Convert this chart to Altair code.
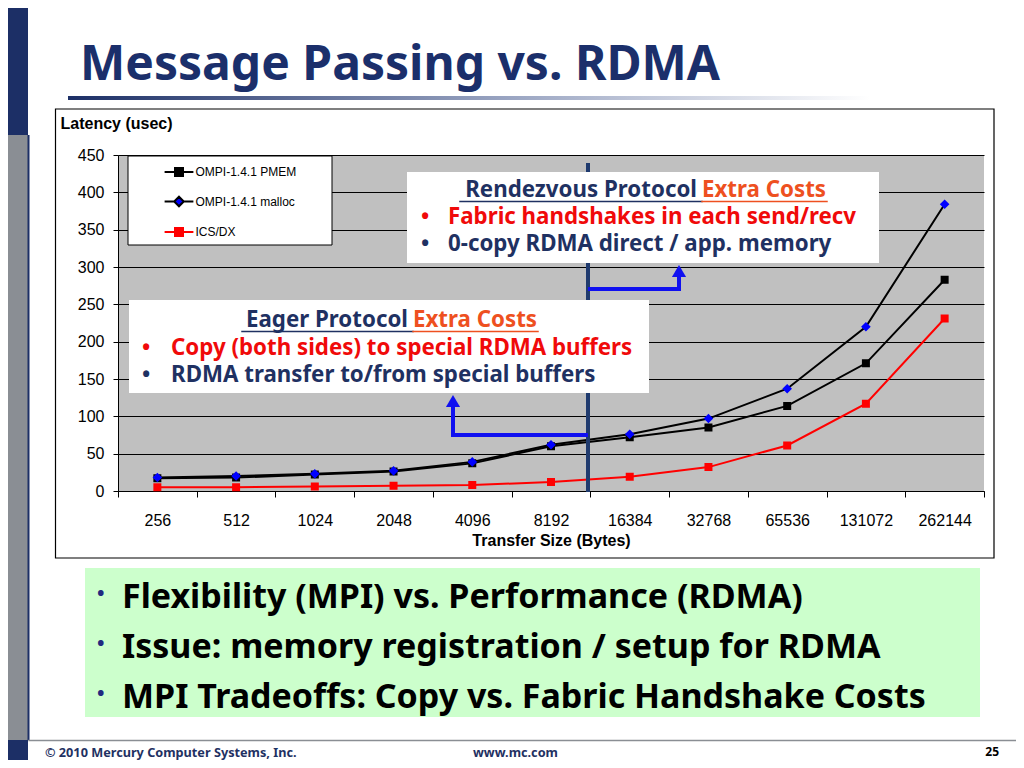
import altair as alt
import pandas as pd

# transfer sizes (bytes) and measured latency (usec) per stack
sizes = ["256", "512", "1024", "2048", "4096", "8192",
         "16384", "32768", "65536", "131072", "262144"]
series = ["OMPI-1.4.1 PMEM", "OMPI-1.4.1 malloc", "ICS/DX"]
pmem = [17, 18, 22, 26, 37, 60, 72, 85, 114, 171, 283]
malloc = [18, 20, 23, 27, 39, 62, 76, 97, 137, 220, 384]
icsdx = [5, 5, 6, 7, 8, 12, 19, 32, 61, 117, 231]
y_ticks = [0, 50, 100, 150, 200, 250, 300, 350, 400, 450]

line_colors = ["#000000", "#000000", "#ff0000"]
marker_colors = ["#000000", "#0000ff", "#ff0000"]
line_widths = [2, 2, 1]
# marker paths carry a stroke-only dash so the legend shows line + marker
SQ = "M-1.8,0H1.8M-0.5,-0.5H0.5V0.5H-0.5Z"
DM = "M-1.8,0H-0.6M0.6,0H1.8M0,-0.6L0.6,0L0,0.6L-0.6,0Z"
marker_shapes = [SQ, DM, SQ]

df = pd.DataFrame({
    "size": sizes * 3,
    "series": [s for s in series for _ in sizes],
    "latency": pmem + malloc + icsdx,
})
one = pd.DataFrame({"k": [0]})

NAVY = "#1c2f66"
TXT_NAVY = "#1f3162"
RED = "#f00a0a"
ORANGE = "#ee5020"
BLUE = "#1010f0"
SLIDE = "Noto Sans"
CHART = "Liberation Sans"

# plot area origin on the page
OX, OY = 118, 155
W, H = 866, 336


def px(x):
    return x - OX


def py(y):
    return y - OY


def rect(x1, y1, x2, y2, **kw):
    return alt.Chart(one).mark_rect(**kw).encode(
        x=alt.value(px(x1)), x2=alt.value(px(x2)),
        y=alt.value(py(y1)), y2=alt.value(py(y2)))


def hrule(x1, x2, y, color, w):
    return alt.Chart(one).mark_rule(color=color, strokeWidth=w, strokeCap="square").encode(
        x=alt.value(px(x1)), x2=alt.value(px(x2)), y=alt.value(py(y)))


def vrule(x, y1, y2, color, w):
    return alt.Chart(one).mark_rule(color=color, strokeWidth=w, strokeCap="square").encode(
        x=alt.value(px(x)), y=alt.value(py(y1)), y2=alt.value(py(y2)))


def label(s, x, y, size, color, align="left", font=SLIDE, weight="bold"):
    return alt.Chart(one).mark_text(
        text=s, align=align, baseline="alphabetic", font=font,
        fontSize=size, fontWeight=weight, color=color).encode(
        x=alt.value(px(x)), y=alt.value(py(y)))


def head(x, y):
    return alt.Chart(one).mark_point(
        shape="triangle-up", filled=True, size=200, color=BLUE, opacity=1).encode(
        x=alt.value(px(x)), y=alt.value(py(y)))


legend = alt.Legend(
    title=None, orient="none", legendX=52, legendY=8, padding=0, zindex=1,
    symbolSize=256, symbolStrokeWidth=1.4,
    labelFont=CHART, labelFontSize=12, labelColor="#000000",
    labelOffset=7.5, rowPadding=12.5, labelLimit=300)

x_enc = alt.X(
    "size:N", sort=sizes,
    scale=alt.Scale(type="band", domain=sizes, paddingInner=0, paddingOuter=0),
    axis=alt.Axis(
        title="Transfer Size (Bytes)", tickBand="extent", labelAngle=0, grid=False,
        labelFont=CHART, labelFontSize=16, labelColor="#000000",
        labelBaseline="alphabetic", labelPadding=28,
        tickColor="#000000", tickSize=6, domainColor="#000000",
        titleFont=CHART, titleFontSize=16, titleFontWeight="bold", titleColor="#000000",
        titleBaseline="alphabetic", titleY=54))
y_enc = alt.Y(
    "latency:Q", scale=alt.Scale(domain=[0, 450], nice=False),
    axis=alt.Axis(
        title="Latency (usec)", values=y_ticks, titleAngle=0, titleAlign="left",
        titleBaseline="alphabetic", titleX=-58, titleY=-27,
        titleFont=CHART, titleFontSize=16, titleFontWeight="bold", titleColor="#000000",
        labelFont=CHART, labelFontSize=16, labelColor="#000000", labelPadding=9,
        tickSize=5, tickColor="#000000", domainColor="#000000",
        gridColor="#000000", gridOpacity=1, gridWidth=1))

lines = alt.Chart(df).mark_line().encode(
    x=x_enc, y=y_enc,
    stroke=alt.Stroke("series:N", scale=alt.Scale(domain=series, range=line_colors),
                      legend=legend),
    strokeWidth=alt.StrokeWidth("series:N", scale=alt.Scale(domain=series, range=line_widths),
                                legend=None),
)

markers = alt.Chart(df).mark_point(filled=True, size=256, opacity=1).encode(
    x=x_enc, y=y_enc,
    fill=alt.Fill("series:N", scale=alt.Scale(domain=series, range=marker_colors),
                  legend=legend),
    shape=alt.Shape("series:N", scale=alt.Scale(domain=series, range=marker_shapes),
                    legend=legend),
)

slide_bg = [
    rect(0, 0, 28, 135, color=NAVY),
    rect(0, 135, 28, 740, color="#8a8e94"),
    rect(27.5, 135, 29.5, 740, color=NAVY),
    rect(0, 740, 28, 768, color=NAVY),
    hrule(29, 1024, 740.5, "#8a8e94", 1.5),
    rect(68, 96, 870, 100, fill={
        "gradient": "linear", "x1": 0, "x2": 1, "y1": 0, "y2": 0,
        "stops": [{"offset": 0, "color": NAVY}, {"offset": 0.55, "color": "#9aa5c2"},
                  {"offset": 1, "color": "#ffffff"}]}),
    label("Message Passing vs. RDMA", 80, 80, 48, "#1b2f6b"),
    rect(55.5, 109, 994, 558, fill="none", stroke="#000000", strokeWidth=1.2),
]

overlay = [
    vrule(588, 165, 490, "#1f3a6e", 4),
    hrule(590, 679, 289, BLUE, 4),
    vrule(679, 289, 276, BLUE, 4),
    head(679, 271),
    hrule(453, 586, 435, BLUE, 4),
    vrule(453, 435, 406, BLUE, 4),
    head(453, 401),
    rect(128, 156, 332, 245, color="#ffffff", stroke="#000000", strokeWidth=1),
    rect(407, 172, 879, 263, color="#ffffff"),
    rect(129, 300, 649, 393, color="#ffffff"),
    # rendezvous box
    label("Rendezvous Protocol", 697, 197, 22.3, TXT_NAVY, align="right"),
    label("Extra Costs", 702, 197, 22.3, ORANGE),
    hrule(460, 702, 201.5, TXT_NAVY, 1.5),
    hrule(702, 827, 201.5, ORANGE, 1.5),
    label("\u2022", 421, 224, 22, RED),
    label("Fabric handshakes in each send/recv", 448, 224, 22.3, RED),
    label("\u2022", 421, 251, 22, TXT_NAVY),
    label("0-copy RDMA direct / app. memory", 448, 251, 22.3, TXT_NAVY),
    # eager box
    label("Eager Protocol", 408, 327, 22.3, TXT_NAVY, align="right"),
    label("Extra Costs", 413, 327, 22.3, ORANGE),
    hrule(242, 413, 331.5, TXT_NAVY, 1.5),
    hrule(413, 538, 331.5, ORANGE, 1.5),
    label("\u2022", 142, 355, 22, RED),
    label("Copy (both sides) to special RDMA buffers", 171, 355, 22.3, RED),
    label("\u2022", 142, 382, 22, TXT_NAVY),
    label("RDMA transfer to/from special buffers", 171, 382, 22.3, TXT_NAVY),
    # takeaways
    rect(85, 568, 980, 717, color="#ccffcc"),
    label("\u2022", 97, 600, 20, "#1f2a80"),
    label("Flexibility (MPI) vs. Performance (RDMA)", 122, 608, 34, "#000000"),
    label("\u2022", 97, 650, 20, "#1f2a80"),
    label("Issue: memory registration / setup for RDMA", 122, 658, 34, "#000000"),
    label("\u2022", 97, 700, 20, "#1f2a80"),
    label("MPI Tradeoffs: Copy vs. Fabric Handshake Costs", 122, 708, 34, "#000000"),
    # footer
    label("\u00a9 2010 Mercury Computer Systems, Inc.", 45, 757, 12.7, TXT_NAVY),
    label("www.mc.com", 473, 757, 12.7, TXT_NAVY),
    label("25", 999, 756, 12, "#000000", align="right"),
]

chart = alt.layer(*slide_bg, lines, markers, *overlay).properties(
    width=W, height=H,
    padding={"left": OX - 8, "top": OY - 8, "right": 1008 - (OX - 8) - W,
             "bottom": 752 - (OY - 8) - H},
    autosize=alt.AutoSizeParams(type="none"),
    background="#ffffff",
).configure_view(fill="#c0c0c0", stroke=None)

chart.save("out.html", embed_options={"renderer": "svg", "actions": False})
